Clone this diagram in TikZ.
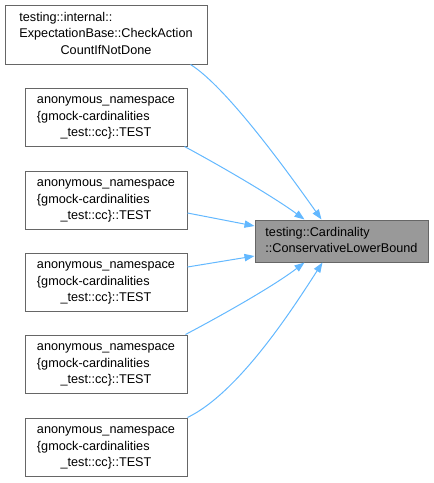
\documentclass[tikz,border=0pt]{standalone}
\usepackage{fontspec}
\setmainfont{Liberation Sans}
\usetikzlibrary{arrows.meta,calc}
\definecolor{edgeblue}{HTML}{63B8FF}
\definecolor{boxborder}{HTML}{666666}
\definecolor{targetfill}{HTML}{999999}
\newcommand{\lastc}[1]{\multicolumn{1}{@{}c@{}}{#1}}
\begin{document}
\begin{tikzpicture}[x=0.75pt,y=-0.75pt,
  every node/.style={font=\fontsize{9.5pt}{12.4pt}\selectfont},
  box/.style={draw=boxborder, line width=0.75pt, fill=white, inner sep=0pt,
    minimum width=121.5pt, minimum height=43.5pt},
  bigbox/.style={box, minimum width=151.5pt, minimum height=44.25pt},
  target/.style={draw=boxborder, line width=0.75pt, fill=targetfill, inner sep=0pt,
    minimum width=129.75pt, minimum height=31.5pt},
  edge/.style={draw=edgeblue, line width=0.75pt, -{Triangle[length=7.5pt,width=5.5pt]}}]
\useasboundingbox (0,0) rectangle (433,483);

\node[bigbox] (b1) at (106,34.5) {\begin{tabular}{@{}l@{}}testing::internal::\\ExpectationBase::CheckAction\\\lastc{CountIfNotDone}\end{tabular}};
\node[box] (b2) at (106,117) {\begin{tabular}{@{}l@{}}anonymous\_namespace\\\{gmock-cardinalities\\\lastc{\_test::cc\}::TEST}\end{tabular}};
\node[box] (b3) at (106,200) {\begin{tabular}{@{}l@{}}anonymous\_namespace\\\{gmock-cardinalities\\\lastc{\_test::cc\}::TEST}\end{tabular}};
\node[box] (b4) at (106,282) {\begin{tabular}{@{}l@{}}anonymous\_namespace\\\{gmock-cardinalities\\\lastc{\_test::cc\}::TEST}\end{tabular}};
\node[box] (b5) at (106,364) {\begin{tabular}{@{}l@{}}anonymous\_namespace\\\{gmock-cardinalities\\\lastc{\_test::cc\}::TEST}\end{tabular}};
\node[box] (b6) at (106,447) {\begin{tabular}{@{}l@{}}anonymous\_namespace\\\{gmock-cardinalities\\\lastc{\_test::cc\}::TEST}\end{tabular}};

\node[target] (t) at (341.5,241) {\begin{tabular}{@{}l@{}}testing::Cardinality\\::ConservativeLowerBound\end{tabular}};

\draw[edge] ($(b1.south east)+(-17,0)$) .. controls (228,88) and (292,178) .. ($(t.north)+(-20,0)$);
\draw[edge] ($(b2.south east)+(-3,0)$) .. controls (228,170) and (275,198) .. ($(t.north)+(-37,0)$);
\draw[edge] ($(b3.east)+(0,13)$) -- ($(t.west)+(0,-15)$);
\draw[edge] ($(b4.east)+(0,-15)$) -- ($(t.west)+(0,15)$);
\draw[edge] ($(b5.north east)+(-2,0)$) .. controls (228,312) and (275,285) .. ($(t.south)+(-37,0)$);
\draw[edge] (b6.north east) .. controls (240,392) and (295,305) .. ($(t.south)+(-19,0)$);
\end{tikzpicture}
\end{document}
